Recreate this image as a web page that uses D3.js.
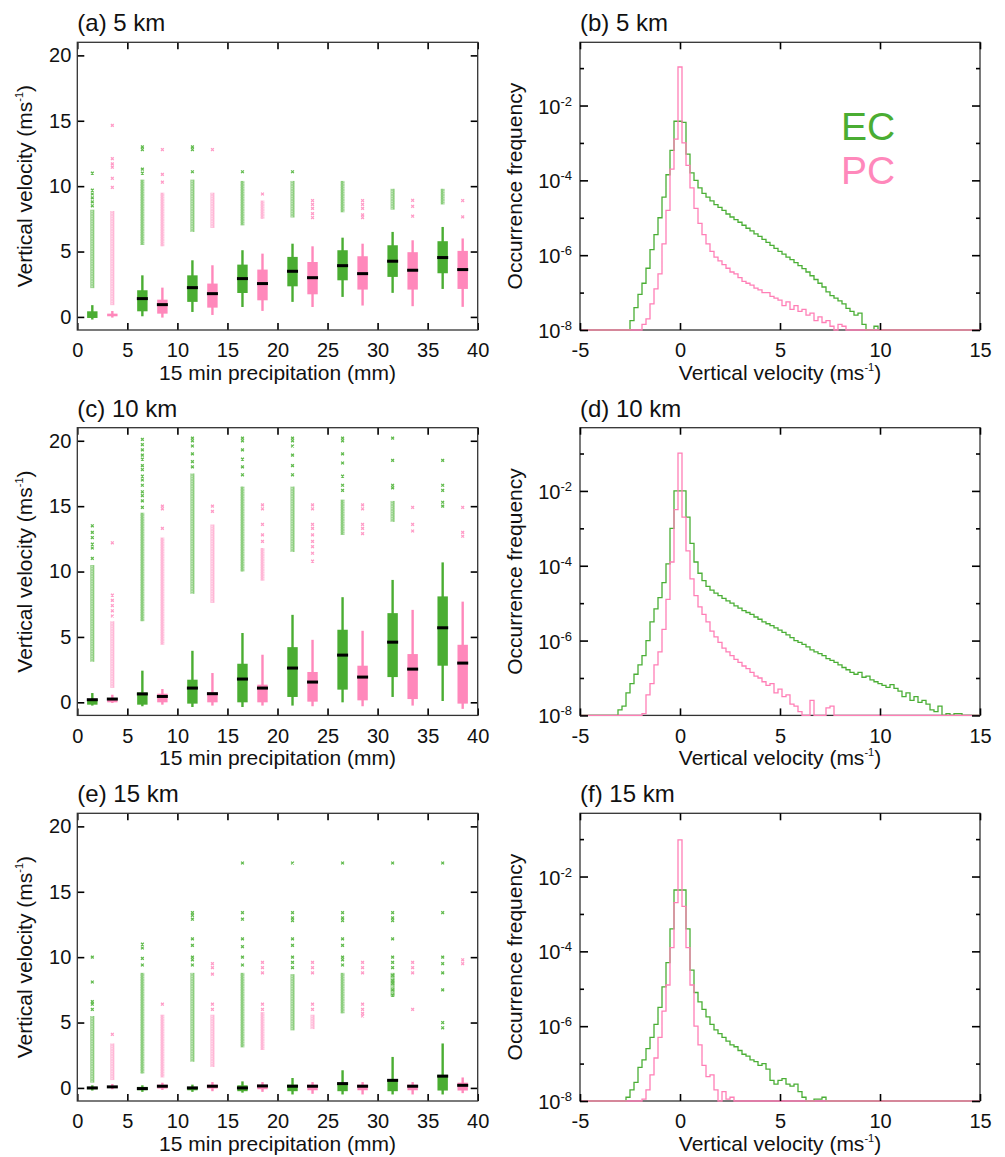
<!DOCTYPE html>
<meta charset="utf-8">
<style>
  body { margin: 0; background: #fff; }
  text { font-family: "Liberation Sans", Arial, sans-serif; fill: #111; }
</style>
<body>
<script src="https://d3js.org/d3.v7.min.js"></script>
<script>
// ---------- box plot data (vertical velocity, m/s) ----------
var binStarts = [0, 5, 10, 15, 20, 25, 30, 35];

// (a) 5 km  (null median = no median bar visible)
var a_ecLo  = [-0.2, 0.05, 0.38, 0.76, 1.15, 1.53, 1.84, 2.14];
var a_ecQ1  = [-0.08, 0.43, 1.15, 1.83, 2.34, 2.8, 3.06, 3.34];
var a_ecMed = [null, 1.4, 2.24, 2.93, 3.49, 3.92, 4.26, 4.54];
var a_ecQ3  = [0.43, 2.04, 3.18, 4.0, 4.59, 5.1, 5.48, 5.79];
var a_ecHi  = [0.9, 3.18, 4.33, 5.1, 5.6, 6.06, 6.5, 6.88];
var a_ecDense = [[2.2, 8.2], [5.5, 10.5], [6.5, 10.5], [7.0, 10.4], [7.6, 10.4], [8.0, 10.4], [8.2, 9.8], [8.6, 9.8]];
var a_ecOut = [[8.5, 8.8, 9.1, 9.4, 9.7, 11.0], [11.0, 11.3, 12.8, 13.0], [11.1, 12.8, 13.0], [11.1], [11.1], [], [], []];
var a_pcLo  = [-0.05, -0.05, 0.15, 0.46, 0.76, 0.87, 0.82, 0.77];
var a_pcQ1  = [0.05, 0.25, 0.71, 1.27, 1.73, 2.09, 2.09, 2.14];
var a_pcMed = [null, 0.94, 1.78, 2.55, 3.0, 3.31, 3.57, 3.62];
var a_pcQ3  = [0.25, 1.32, 2.55, 3.62, 4.2, 4.64, 4.95, 5.05];
var a_pcHi  = [0.45, 2.24, 3.95, 4.84, 5.4, 5.6, 5.86, 6.0];
var a_pcDense = [[0.9, 8.1], [5.4, 9.5], [6.8, 9.5], [7.5, 8.9], null, null, null, null];
var a_pcOut = [[9.9, 10.6, 11.45, 11.7, 12.1, 14.65], [10.3, 10.9, 12.8], [12.8], [9.4],
               [7.6, 7.9, 8.3, 8.6, 8.9], [7.6, 7.8, 8.3, 8.6, 8.9], [7.7, 8.46, 8.92], [7.65, 8.9]];

// (c) 10 km
var c_ecLo  = [-0.25, -0.3, -0.36, -0.36, -0.25, 0.0, 0.41, 0.1];
var c_ecQ1  = [-0.18, -0.18, -0.1, 0.0, 0.41, 0.97, 1.93, 2.8];
var c_ecMed = [0.2, 0.64, 1.09, 1.78, 2.62, 3.61, 4.6, 5.7];
var c_ecQ3  = [0.25, 0.76, 1.73, 2.95, 4.22, 5.55, 6.82, 8.1];
var c_ecHi  = [0.71, 2.42, 3.94, 5.3, 6.69, 8.04, 9.36, 10.7];
var c_ecDense = [[3.1, 10.5], [6.2, 14.5], [8.3, 17.5], [10.0, 16.5], [11.5, 16.5], [12.8, 15.5], [13.8, 15.4], null];
var c_ecOut = [[11.0, 11.8, 12.1, 12.6, 13.0, 13.5],
               [14.9, 15.4, 15.8, 16.1, 16.6, 17.0, 17.3, 17.8, 18.1, 18.6, 18.9, 19.3, 19.7, 20.1],
               [18.0, 18.4, 19.0, 19.6, 20.0, 20.2],
               [17.4, 18.0, 18.6, 19.3, 20.0, 20.2],
               [17.4, 18.1, 18.9, 19.6, 20.0, 20.2],
               [16.2, 16.6, 17.3, 18.3, 19.0, 20.0, 20.2],
               [16.4, 16.6, 18.5, 20.2],
               [15.0, 15.3, 16.2, 16.6, 18.5]];
var c_pcLo  = [-0.05, -0.18, -0.25, -0.25, -0.3, -0.3, -0.25, -0.5];
var c_pcQ1  = [0.0, 0.0, 0.0, 0.0, 0.05, 0.15, 0.25, -0.1];
var c_pcMed = [0.25, 0.45, 0.66, 1.09, 1.55, 1.93, 2.54, 3.0];
var c_pcQ3  = [0.33, 0.66, 0.76, 1.35, 2.32, 2.8, 3.69, 4.4];
var c_pcHi  = [0.58, 1.02, 2.24, 3.64, 4.78, 5.47, 7.07, 7.7];
var c_pcDense = [[1.1, 6.2], [4.4, 12.6], [7.6, 13.6], [9.3, 11.8], null, null, null, null];
var c_pcOut = [[6.6, 7.0, 7.4, 7.8, 8.2, 12.2], [13.3, 14.8, 15.0], [14.6, 15.0],
               [12.3, 12.8, 13.6, 14.8, 15.1],
               [10.8, 11.4, 11.9, 12.3, 12.8, 13.3, 13.6, 14.8, 15.1],
               [12.9, 13.3, 13.6, 14.8, 15.1], [13.1, 13.6, 14.9], [12.7, 13.0, 14.9]];

// (e) 15 km
var e_ecLo  = [-0.2, -0.3, -0.3, -0.36, -0.5, -0.5, -0.5, -0.5];
var e_ecQ1  = [-0.1, -0.18, -0.18, -0.25, -0.25, -0.25, -0.25, -0.2];
var e_ecMed = [0.0, -0.05, 0.0, 0.0, 0.13, 0.33, 0.58, 0.9];
var e_ecQ3  = [0.08, 0.08, 0.08, 0.2, 0.25, 0.33, 0.6, 1.0];
var e_ecHi  = [0.2, 0.2, 0.25, 0.5, 0.76, 1.35, 2.37, 3.4];
var e_ecDense = [[0.4, 5.5], [1.1, 8.8], [2.0, 8.8], [3.1, 8.8], [4.4, 8.7], [5.7, 8.8], [7.0, 8.8], null];
var e_ecOut = [[6.0, 6.4, 6.6, 8.1, 10.0], [9.4, 9.9, 10.7, 11.0],
               [9.4, 9.8, 10.0, 10.9, 11.4, 12.9, 13.2, 13.4],
               [9.4, 10.0, 10.8, 11.4, 12.9, 13.4, 17.2],
               [9.2, 9.6, 10.0, 10.9, 11.4, 12.8, 13.0, 13.4, 17.2],
               [9.4, 9.8, 10.0, 10.9, 11.4, 12.8, 13.0, 13.4, 17.2],
               [7.1, 7.5, 8.0, 8.2, 8.6, 9.2, 9.6, 10.0, 11.4, 12.8, 13.0, 13.4, 17.2],
               [4.6, 5.0, 7.5, 8.8, 9.5, 10.0, 13.4, 17.2]];
var e_pcLo  = [-0.1, -0.15, -0.25, -0.3, -0.45, -0.5, -0.5, -0.4];
var e_pcQ1  = [0.0, -0.05, -0.05, -0.1, -0.18, -0.18, -0.18, -0.2];
var e_pcMed = [0.08, 0.13, 0.13, 0.15, 0.13, 0.13, 0.13, 0.2];
var e_pcQ3  = [0.15, 0.25, 0.25, 0.25, 0.25, 0.25, 0.25, 0.4];
var e_pcHi  = [0.3, 0.4, 0.45, 0.45, 0.45, 0.45, 0.45, 0.8];
var e_pcDense = [[0.6, 3.4], [0.8, 5.6], [1.6, 5.6], [2.9, 5.8], [4.5, 5.6], null, null, null];
var e_pcOut = [[4.1], [6.4], [6.0, 6.4, 8.7, 9.2, 9.5], [6.0, 6.4, 8.8, 9.2, 9.6],
               [6.0, 6.4, 8.8, 9.2, 9.6], [5.5, 5.7, 6.0, 6.4, 8.8, 9.2, 9.6], [6.0, 8.8, 9.2, 9.6], [9.5, 9.8]];

// ---------- histogram data: log10(occurrence frequency), 0.2 m/s bins ----------
// each series: first bin centre, then values (null = empty bin)
var b_ecStart = -2.4;
var b_ecLog = [-7.75, -7.4, -7.05, -6.75, -6.35, -5.85, -5.45, -5.0, -4.45, -3.85, -3.2, -2.42, -2.42, -2.45, -3.3, -3.8,
  -4.0, -4.2, -4.35, -4.45, -4.55, -4.65, -4.72, -4.8, -4.9, -4.98, -5.05, -5.12, -5.2, -5.28, -5.35, -5.43, -5.5,
  -5.58, -5.66, -5.74, -5.82, -5.9, -5.97, -6.05, -6.12, -6.2, -6.28, -6.36, -6.45, -6.55, -6.65, -6.75, -6.85,
  -6.98, -7.08, -7.15, -7.22, -7.3, -7.42, -7.5, -7.6, -7.55, -7.85, null, null, -7.9];
var b_pcStart = -1.8;
var b_pcLog = [-7.85, -7.7, -7.3, -6.9, -6.5, -5.7, -4.8, -3.7, -2.9, -0.97, -3.0, -3.6, -4.2, -4.75, -5.15, -5.45,
  -5.7, -5.9, -6.05, -6.15, -6.25, -6.35, -6.45, -6.5, -6.6, -6.7, -6.75, -6.8, -6.88, -6.93, -7.0, -7.0, -7.1,
  -7.15, -7.2, -7.35, -7.25, -7.45, -7.35, -7.5, -7.45, -7.6, -7.55, -7.75, -7.65, -7.8, -7.75, -7.9, null, -7.85, -7.9];

var d_ecStart = -3.0;
var d_ecLog = [-7.85, -7.75, -7.4, -7.15, -6.9, -6.65, -6.4, -6.0, -5.5, -5.15, -4.85, -4.45, -3.95, -3.0, -2.0,
  -2.0, -2.0, -2.7, -3.4, -3.9, -4.2, -4.4, -4.55, -4.65, -4.73, -4.8, -4.87, -4.94, -5.0, -5.07, -5.13, -5.2, -5.25,
  -5.3, -5.37, -5.43, -5.5, -5.55, -5.6, -5.66, -5.72, -5.78, -5.85, -5.92, -6.0, -6.05, -6.1, -6.17, -6.25, -6.3,
  -6.35, -6.4, -6.48, -6.53, -6.58, -6.65, -6.72, -6.78, -6.85, -6.9, -6.85, -6.98, -6.95, -7.05, -7.1, -7.15, -7.2,
  -7.25, -7.18, -7.28, -7.35, -7.5, -7.4, -7.6, -7.5, -7.65, -7.6, -7.7, -7.85, -7.9, -7.75, null, -7.95, null, -7.95, -7.95];
var d_pcStart = -1.8;
var d_pcLog = [-7.95, -7.45, -7.15, -6.65, -6.3, -5.7, -4.9, -3.9, -2.5, -0.99, -2.7, -3.6, -4.35, -4.8, -5.1, -5.3,
  -5.5, -5.75, -5.9, -6.05, -6.2, -6.3, -6.4, -6.5, -6.58, -6.68, -6.75, -6.85, -6.95, -7.0, -7.1, -7.2, -7.15, -7.4,
  -7.3, -7.5, -7.45, -7.7, -7.75, -7.9, null, null, -7.6, null, null, null, -7.8, -7.75];

var f_ecStart = -2.6;
var f_ecLog = [-7.9, -7.7, -7.5, -7.1, -6.9, -6.6, -6.3, -5.95, -5.5, -4.95, -4.3, -3.4, -2.36, -2.36, -2.36, -3.4,
  -4.5, -5.1, -5.35, -5.55, -5.75, -5.95, -6.1, -6.2, -6.3, -6.4, -6.5, -6.55, -6.65, -6.75, -6.8, -6.9, -6.95,
  -7.05, -7.0, -7.15, -7.45, -7.55, -7.45, -7.4, -7.55, -7.6, -7.55, -7.75, -7.9, null, null, -7.95, -7.95, -7.9];
var f_pcStart = -1.8;
var f_pcLog = [-7.95, -7.7, -7.3, -6.85, -6.3, -5.6, -4.9, -3.9, -2.7, -1.02, -2.8, -3.9, -4.9, -6.0, -6.5, -7.05,
  -7.35, -7.3, -7.7, null, -7.75, -7.95, -7.9];

var binWidth = 0.2;

// ---------- layout ----------
var ecColor = "#4aad32", pcColor = "#ff88bb";
var ecLight = "#62bb4e", pcLight = "#ff9cc7";
var ecLine = "#4aae35", pcLine = "#ff7fb6";
var rowTops = [42.3, 427.7, 813.3], plotH = 287.7;
var leftX0 = 77.3, leftX1 = 477.7, rightX0 = 580, rightX1 = 980;
var numFmt = function (d) { return String(d); };   // plain hyphen for negatives

var svg = d3.select("body").append("svg")
  .attr("width", 1005).attr("height", 1157);

// texture for the dense runs of outliers: stacked tiny crosses
var defs = svg.append("defs");
[["ecDots", ecLight], ["pcDots", pcLight]].forEach(function (pd) {
  var pat = defs.append("pattern").attr("id", pd[0])
    .attr("patternUnits", "userSpaceOnUse").attr("width", 4).attr("height", 2.5);
  pat.append("rect").attr("width", 4).attr("height", 2.5).attr("fill", pd[1]).attr("opacity", 0.35);
  pat.append("path").attr("d", "M0.6,0.2L3.4,2.3M0.6,2.3L3.4,0.2")
    .attr("stroke", pd[1]).attr("stroke-width", 0.9).attr("opacity", 0.85);
});

// ---------- box panels ----------
var boxPanels = [
  { title: "(a) 5 km",
    ec: { lo: a_ecLo, q1: a_ecQ1, med: a_ecMed, q3: a_ecQ3, hi: a_ecHi, dense: a_ecDense, out: a_ecOut },
    pc: { lo: a_pcLo, q1: a_pcQ1, med: a_pcMed, q3: a_pcQ3, hi: a_pcHi, dense: a_pcDense, out: a_pcOut } },
  { title: "(c) 10 km",
    ec: { lo: c_ecLo, q1: c_ecQ1, med: c_ecMed, q3: c_ecQ3, hi: c_ecHi, dense: c_ecDense, out: c_ecOut },
    pc: { lo: c_pcLo, q1: c_pcQ1, med: c_pcMed, q3: c_pcQ3, hi: c_pcHi, dense: c_pcDense, out: c_pcOut } },
  { title: "(e) 15 km",
    ec: { lo: e_ecLo, q1: e_ecQ1, med: e_ecMed, q3: e_ecQ3, hi: e_ecHi, dense: e_ecDense, out: e_ecOut },
    pc: { lo: e_pcLo, q1: e_pcQ1, med: e_pcMed, q3: e_pcQ3, hi: e_pcHi, dense: e_pcDense, out: e_pcOut } }
];

var x = d3.scaleLinear().domain([0, 40]).range([leftX0, leftX1]);

boxPanels.forEach(function (p, r) {
  var top = rowTops[r], bottom = top + plotH;
  var y = d3.scaleLinear().domain([-1, 21]).range([bottom, top]);
  var g = svg.append("g");

  // series: EC sits 1.5 mm into each 5 mm bin, PC 3.5 mm
  [["ec", 1.5, ecColor, ecLight, "url(#ecDots)"], ["pc", 3.5, pcColor, pcLight, "url(#pcDots)"]].forEach(function (s) {
    var d = p[s[0]], off = s[1], col = s[2], light = s[3];
    binStarts.forEach(function (b, i) {
      var cx = x(b + off);
      if (d.dense[i]) {
        g.append("rect")
          .attr("x", cx - 2).attr("width", 4)
          .attr("y", y(d.dense[i][1])).attr("height", y(d.dense[i][0]) - y(d.dense[i][1]))
          .attr("fill", s[4]);
      }
      d.out[i].forEach(function (v) {
        g.append("path")
          .attr("transform", "translate(" + cx + "," + y(v) + ")")
          .attr("d", "M-1.4,-1.4L1.4,1.4M-1.4,1.4L1.4,-1.4")
          .attr("stroke", light).attr("stroke-width", 1.3);
      });
      g.append("line")
        .attr("x1", cx).attr("x2", cx)
        .attr("y1", y(d.lo[i])).attr("y2", y(d.hi[i]))
        .attr("stroke", col).attr("stroke-width", 2.4);
      g.append("rect")
        .attr("x", cx - 5.2).attr("width", 10.4)
        .attr("y", y(d.q3[i])).attr("height", Math.max(1.5, y(d.q1[i]) - y(d.q3[i])))
        .attr("fill", col);
      if (d.med[i] != null) {
        g.append("rect")
          .attr("x", cx - 5.5).attr("width", 11)
          .attr("y", y(d.med[i]) - 1.5).attr("height", 3)
          .attr("fill", "#000");
      }
    });
  });

  // axes with inward ticks
  var tv = [0, 5, 10, 15, 20, 25, 30, 35, 40];
  g.append("g").attr("transform", "translate(0," + bottom + ")")
    .call(d3.axisBottom(x).tickValues(tv).tickSize(-7).tickPadding(13).tickFormat(numFmt));
  g.append("g").attr("transform", "translate(0," + top + ")")
    .call(d3.axisTop(x).tickValues(tv).tickSize(-7).tickFormat(""));
  g.append("g").attr("transform", "translate(" + leftX0 + ",0)")
    .call(d3.axisLeft(y).tickValues([0, 5, 10, 15, 20]).tickSize(-7).tickPadding(6).tickFormat(numFmt));
  g.append("g").attr("transform", "translate(" + leftX1 + ",0)")
    .call(d3.axisRight(y).tickValues([0, 5, 10, 15, 20]).tickSize(-7).tickFormat(""));
  g.selectAll(".domain").remove();
  g.selectAll(".tick line").attr("stroke", "#000").attr("stroke-width", 1.6);
  g.selectAll(".tick text").style("font-size", "20px").attr("fill", "#111")
    .style("font-family", '"Liberation Sans", Arial, sans-serif');

  g.append("rect")
    .attr("x", leftX0).attr("y", top).attr("width", leftX1 - leftX0).attr("height", plotH)
    .attr("fill", "none").attr("stroke", "#333").attr("stroke-width", 1.3);

  g.append("text").attr("x", leftX0).attr("y", top - 11)
    .style("font-size", "24px").text(p.title);
  g.append("text").attr("x", (leftX0 + leftX1) / 2).attr("y", bottom + 50)
    .attr("text-anchor", "middle").style("font-size", "21px")
    .text("15 min precipitation (mm)");
  var yl = g.append("text")
    .attr("transform", "translate(32," + (top + plotH / 2) + ") rotate(-90)")
    .attr("text-anchor", "middle").style("font-size", "21px");
  yl.append("tspan").text("Vertical velocity (ms");
  yl.append("tspan").attr("dy", -9).style("font-size", "11px").text("-1");
  yl.append("tspan").attr("dy", 9).text(")");
});

// ---------- histogram panels ----------
var histPanels = [
  { title: "(b) 5 km", ec: [b_ecStart, b_ecLog], pc: [b_pcStart, b_pcLog], legend: true },
  { title: "(d) 10 km", ec: [d_ecStart, d_ecLog], pc: [d_pcStart, d_pcLog] },
  { title: "(f) 15 km", ec: [f_ecStart, f_ecLog], pc: [f_pcStart, f_pcLog] }
];

var xh = d3.scaleLinear().domain([-5, 15]).range([rightX0, rightX1]);

histPanels.forEach(function (p, r) {
  var top = rowTops[r], bottom = top + plotH;
  var yh = d3.scaleLog().domain([1e-8, Math.pow(10, -0.31)]).range([bottom, top]).clamp(true);
  var g = svg.append("g");
  var clipId = "clip" + r;
  g.append("clipPath").attr("id", clipId).append("rect")
    .attr("x", rightX0).attr("y", top - 1).attr("width", rightX1 - rightX0).attr("height", plotH + 2);

  // frame first: the histogram floor lies on top of the bottom edge
  g.append("rect")
    .attr("x", rightX0).attr("y", top).attr("width", rightX1 - rightX0).attr("height", plotH)
    .attr("fill", "none").attr("stroke", "#333").attr("stroke-width", 1.3);

  // outline of a histogram: empty bins sit on the 1e-8 floor
  function stepPath(series) {
    var start = series[0], vals = series[1];
    var pts = [[xh(-5.2), bottom]];
    vals.forEach(function (v, i) {
      var c = start + i * binWidth;
      var yy = v == null ? bottom : yh(Math.pow(10, v));
      pts.push([xh(c - binWidth / 2), yy]);
      pts.push([xh(c + binWidth / 2), yy]);
    });
    pts.push([pts[pts.length - 1][0], bottom]);
    pts.push([xh(15.2), bottom]);
    var out = [];
    pts.forEach(function (q, i) {
      if (i > 0 && q[0] !== pts[i - 1][0] && q[1] !== pts[i - 1][1]) out.push([q[0], pts[i - 1][1]]);
      out.push(q);
    });
    return d3.line()(out);
  }

  [["ec", ecLine], ["pc", pcLine]].forEach(function (s) {
    g.append("path")
      .attr("clip-path", "url(#" + clipId + ")")
      .attr("d", stepPath(p[s[0]]))
      .attr("fill", "none").attr("stroke", s[1]).attr("stroke-width", 1.3);
  });

  // axes
  var xv = [-5, 0, 5, 10, 15];
  g.append("g").attr("transform", "translate(0," + bottom + ")")
    .call(d3.axisBottom(xh).tickValues(xv).tickSize(-7).tickPadding(13).tickFormat(numFmt));
  g.append("g").attr("transform", "translate(0," + top + ")")
    .call(d3.axisTop(xh).tickValues(xv).tickSize(-7).tickFormat(""));
  var major = [1e-2, 1e-4, 1e-6, 1e-8], minor = [1e-1, 1e-3, 1e-5, 1e-7];
  g.append("g").attr("transform", "translate(" + rightX0 + ",0)")
    .call(d3.axisLeft(yh).tickValues(major).tickSize(-8).tickFormat(""));
  g.append("g").attr("transform", "translate(" + rightX0 + ",0)")
    .call(d3.axisLeft(yh).tickValues(minor).tickSize(-4).tickFormat(""));
  g.append("g").attr("transform", "translate(" + rightX1 + ",0)")
    .call(d3.axisRight(yh).tickValues(major).tickSize(-8).tickFormat(""));
  g.append("g").attr("transform", "translate(" + rightX1 + ",0)")
    .call(d3.axisRight(yh).tickValues(minor).tickSize(-4).tickFormat(""));
  g.selectAll(".domain").remove();
  g.selectAll(".tick line").attr("stroke", "#000").attr("stroke-width", 1.6);
  g.selectAll(".tick text").style("font-size", "20px").attr("fill", "#111")
    .style("font-family", '"Liberation Sans", Arial, sans-serif');

  major.forEach(function (v) {
    var t = g.append("text").attr("x", rightX0 - 8).attr("y", yh(v) + 8)
      .attr("text-anchor", "end").style("font-size", "20px");
    t.append("tspan").text("10");
    t.append("tspan").attr("dy", -8).style("font-size", "13px").text("-" + Math.round(-Math.log10(v)));
  });

  g.append("text").attr("x", rightX0).attr("y", top - 11)
    .style("font-size", "24px").text(p.title);
  var xl = g.append("text").attr("x", (rightX0 + rightX1) / 2).attr("y", bottom + 50)
    .attr("text-anchor", "middle").style("font-size", "21px");
  xl.append("tspan").text("Vertical velocity (ms");
  xl.append("tspan").attr("dy", -9).style("font-size", "11px").text("-1");
  xl.append("tspan").attr("dy", 9).text(")");
  g.append("text")
    .attr("transform", "translate(522," + (top + plotH / 2) + ") rotate(-90)")
    .attr("text-anchor", "middle").style("font-size", "21px")
    .text("Occurrence frequency");

  if (p.legend) {
    g.append("text").attr("x", 841).attr("y", 140).style("font-size", "39px")
      .style("fill", ecColor).text("EC");
    g.append("text").attr("x", 841).attr("y", 184).style("font-size", "39px")
      .style("fill", pcColor).text("PC");
  }
});
</script>
</body>
